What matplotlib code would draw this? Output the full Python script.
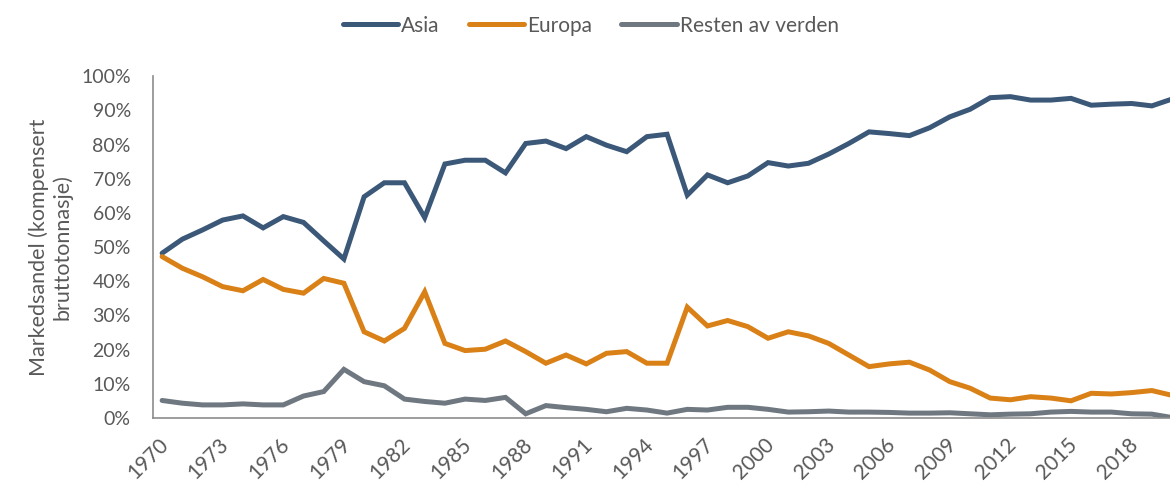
import matplotlib
matplotlib.use("Agg")
import matplotlib.pyplot as plt
import matplotlib.ticker as mticker
import matplotlib.transforms as mtransforms

years = list(range(1970, 2021))
asia = [48.2, 52.3, 55.0, 57.9, 59.1, 55.6, 58.9, 57.2, 51.8, 46.5,
        64.7, 68.8, 68.8, 58.6, 74.3, 75.4, 75.4, 71.7, 80.3, 81.0,
        78.8, 82.3, 79.8, 77.9, 82.3, 83.0, 65.2, 71.1, 68.8, 70.8,
        74.7, 73.7, 74.5, 77.2, 80.3, 83.7, 83.2, 82.6, 84.9, 88.1,
        90.3, 93.7, 94.0, 93.0, 93.0, 93.5, 91.5, 91.8, 92.0, 91.3,
        93.3]
europa = [47.2, 43.8, 41.3, 38.4, 37.2, 40.5, 37.6, 36.5, 40.8, 39.4,
          25.2, 22.5, 26.2, 36.9, 21.8, 19.7, 20.1, 22.5, 19.4, 16.0,
          18.4, 15.8, 18.9, 19.4, 16.0, 16.0, 32.4, 26.9, 28.5, 26.7,
          23.3, 25.2, 24.0, 21.8, 18.4, 15.0, 15.8, 16.3, 14.0, 10.6,
          8.7, 5.8, 5.3, 6.2, 5.8, 5.0, 7.2, 7.0, 7.4, 8.0,
          6.6]
resten = [5.1, 4.3, 3.8, 3.8, 4.1, 3.8, 3.8, 6.4, 7.7, 14.2,
          10.6, 9.4, 5.5, 4.8, 4.3, 5.5, 5.1, 6.0, 1.2, 3.6,
          3.0, 2.5, 1.8, 2.8, 2.3, 1.4, 2.5, 2.3, 3.1, 3.1,
          2.5, 1.7, 1.8, 2.0, 1.7, 1.7, 1.6, 1.4, 1.4, 1.5,
          1.2, 0.9, 1.1, 1.2, 1.7, 1.9, 1.7, 1.7, 1.2, 1.1,
          0.1]
tick_years = list(range(1970, 2019, 3))
series_names = ["Asia", "Europa", "Resten av verden"]
colors = ["#3B5878", "#D98017", "#6F7880"]
ylabel = "Markedsandel (kompensert\nbruttotonnasje)"

plt.rcParams['font.family'] = ['Lato', 'DejaVu Sans']
text_color = "#595959"

fig = plt.figure(figsize=(11.7, 4.82), dpi=100)
ax = fig.add_axes([0.1308, 0.133, 0.8692, 0.709])

for vals, name, c in zip([asia, europa, resten], series_names, colors):
    ax.plot(years, [v / 100 for v in vals], color=c, lw=3.6, label=name,
            solid_joinstyle='miter', solid_capstyle='round')

ax.set_xlim(1969.55, 2019.9)
ax.set_ylim(0, 1.0)
ax.yaxis.set_major_locator(mticker.MultipleLocator(0.1))
ax.yaxis.set_major_formatter(mticker.PercentFormatter(1.0, decimals=0))
ax.set_xticks(tick_years)
ax.set_xticklabels([str(y) for y in tick_years], rotation=45, ha='right',
                   rotation_mode='anchor')
ax.tick_params(axis='both', length=0, colors=text_color)
ax.tick_params(axis='y', pad=16, labelsize=14)
ax.tick_params(axis='x', pad=12, labelsize=15)

shift = mtransforms.ScaledTranslation(-4 / 100, 0, fig.dpi_scale_trans)
for lbl in ax.get_xticklabels():
    lbl.set_transform(lbl.get_transform() + shift)

for s in ['top', 'right']:
    ax.spines[s].set_visible(False)
for s in ['left', 'bottom']:
    ax.spines[s].set_color("#8C8C8C")
    ax.spines[s].set_linewidth(1.2)

ax.set_ylabel(ylabel, fontsize=15.5, color=text_color, labelpad=6)

fig.legend(loc='center', bbox_to_anchor=(0.505, 0.947), ncol=3,
           frameon=False, fontsize=15, handlelength=2.65, handletextpad=0.15,
           columnspacing=1.4, labelcolor=text_color)

fig.savefig("out.png", dpi=100)
